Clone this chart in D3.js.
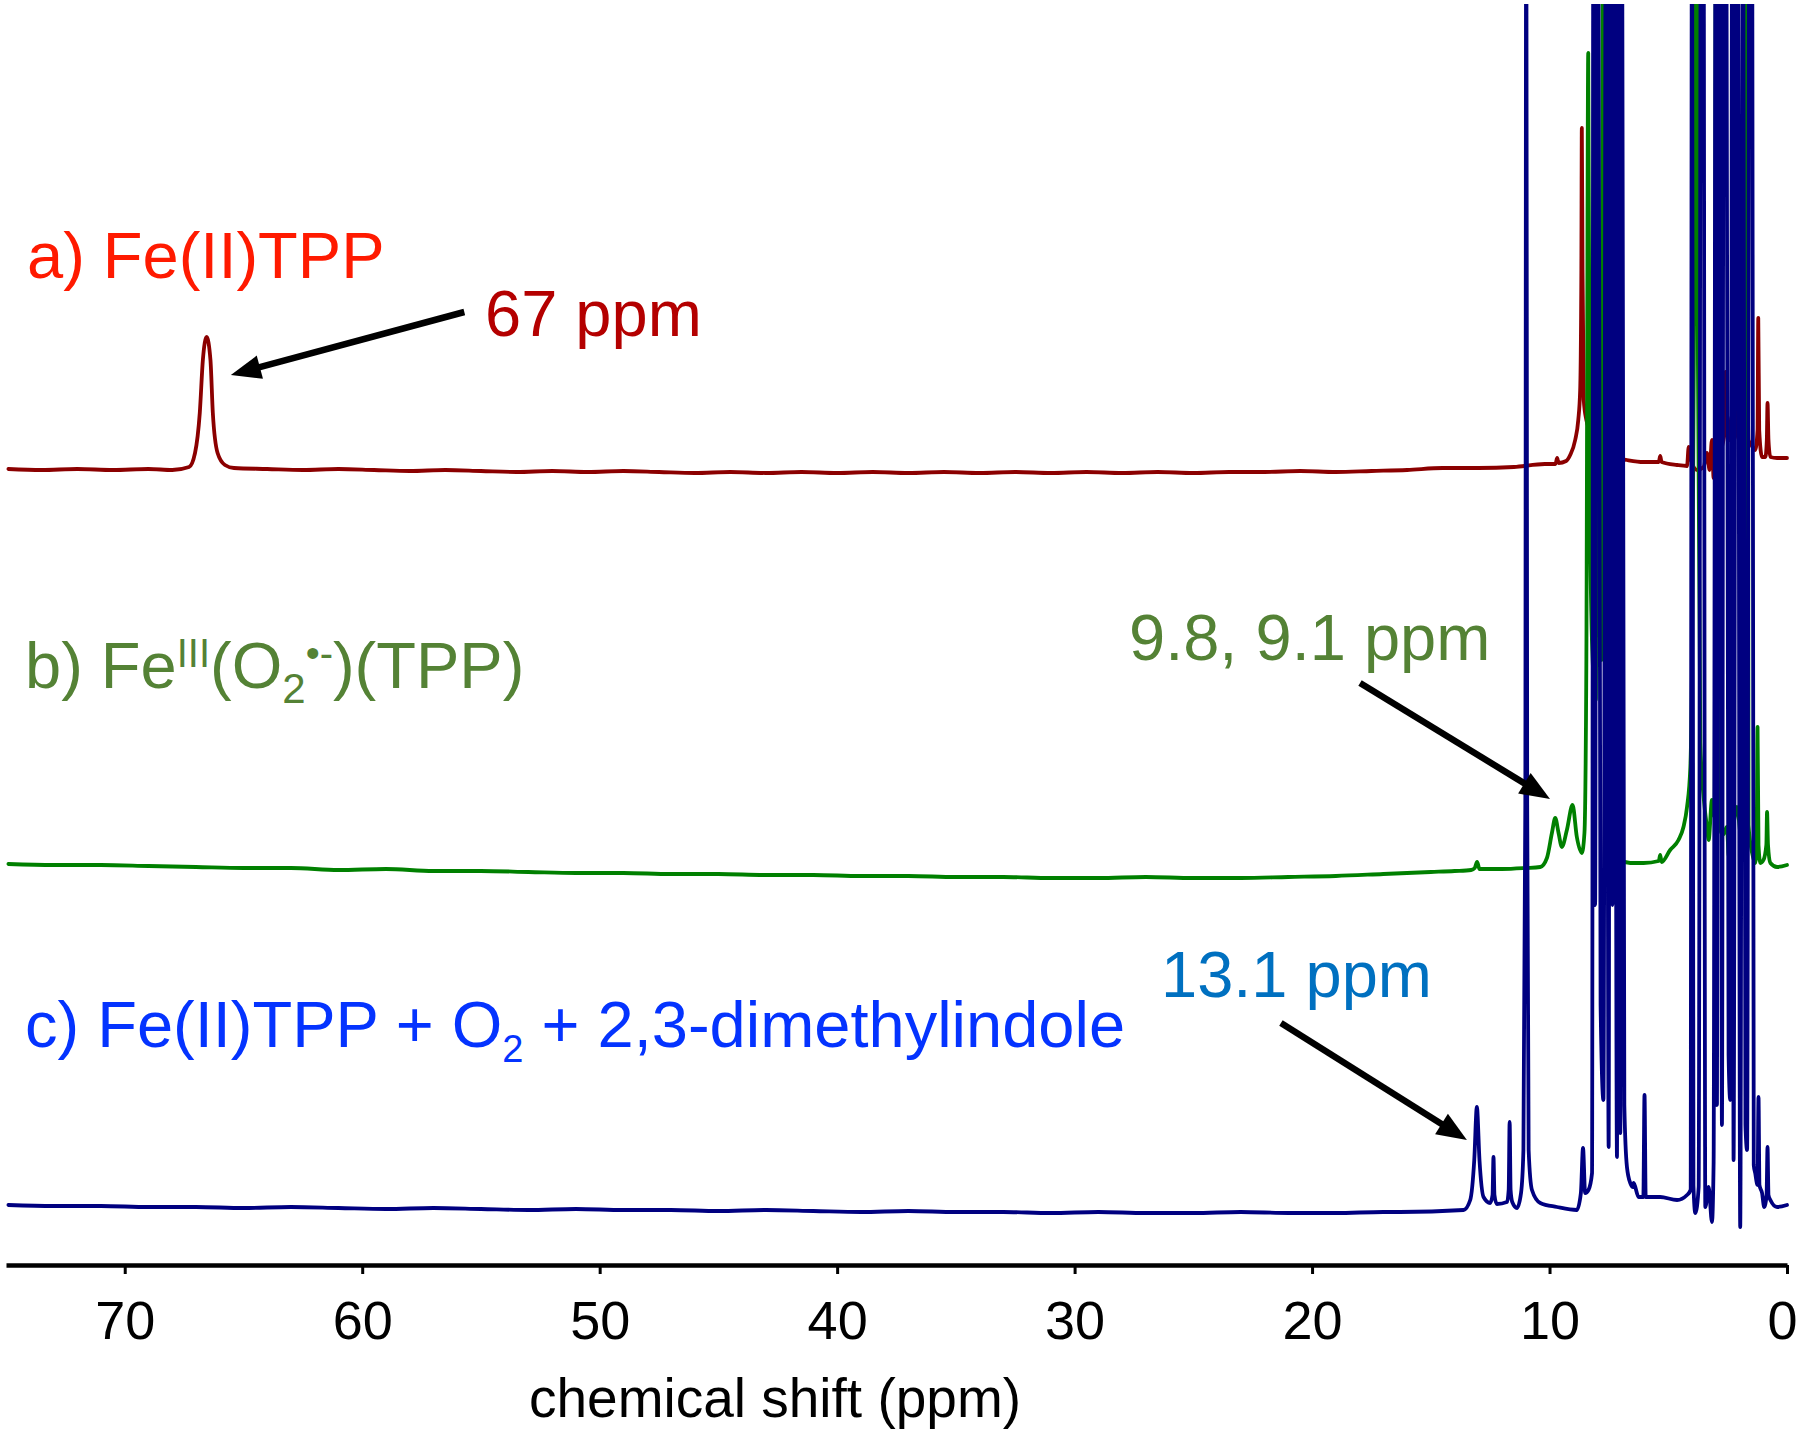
<!DOCTYPE html>
<html>
<head>
<meta charset="utf-8">
<script src="https://cdn.jsdelivr.net/npm/d3@7"></script>
<style>
  html, body { margin: 0; padding: 0; background: #ffffff; }
  svg { display: block; }
  text { font-family: "Liberation Sans", Arial, Helvetica, sans-serif; white-space: pre; }
</style>
</head>
<body>
<script>
// ---------------- DATA ----------------
const tickValues = [70, 60, 50, 40, 30, 20, 10, 0];
const tickLabels = ["70", "60", "50", "40", "30", "20", "10", "0"];
const axisTitle = "chemical shift (ppm)";

const seriesNames = ["a) Fe(II)TPP", "b) FeIII(O2•-)(TPP)", "c) Fe(II)TPP + O2 + 2,3-dimethylindole"];
// vertical stacking offsets of each spectrum (intensity, a.u.)
const seriesOffsets = [795, 400, 60];

// [chemical shift (ppm), intensity (a.u.)]
const spectrumA = [
  [74.9, 1], [73.5, 0], [72.0, 1], [70.5, 0], [69.0, 1], [68.0, 0],
  [67.29, 3], [67.04, 17], [66.84, 57], [66.71, 110], [66.55, 133], [66.39, 110],
  [66.29, 57], [66.09, 17], [65.78, 5], [65.40, 2],
  [64.0, 1], [62.5, 0], [61.0, 1], [59.5, 0], [58.0, -1], [56.5, 0], [55.0, -1],
  [53.5, -2], [52.0, -1], [50.5, -2], [49.0, -1], [47.5, -2], [46.0, -3], [44.5, -2],
  [43.0, -3], [41.5, -2], [40.0, -3], [38.5, -2], [37.0, -3], [35.5, -2], [34.0, -3],
  [32.5, -2], [31.0, -3], [29.5, -2], [28.0, -3], [26.5, -2], [25.0, -3], [23.5, -2],
  [22.0, -2], [20.5, -1], [19.0, -2], [17.5, -1], [16.0, 0], [14.5, 2], [13.0, 2],
  [11.5, 3], [10.2, 6], [9.75, 6], [9.68, 12], [9.62, 7], [9.3, 9], [9.13, 15],
  [8.92, 30], [8.79, 50], [8.71, 80], [8.66, 200], [8.64, 342], [8.61, 200], [8.56, 70],
  [8.45, 50], [8.3, 40], [8.1, 33], [7.9, 32], [7.75, 45], [7.69, 150], [7.65, 1300],
  [7.61, 150], [7.55, 35], [7.51, 22], [7.30, 15], [7.16, 12], [6.74, 10], [6.04, 8],
  [5.40, 8], [5.34, 14], [5.28, 8], [4.63, 5], [4.21, 4], [4.14, 23], [4.04, 10],
  [3.79, 0], [3.51, 3], [3.37, 17], [3.26, 0], [3.16, 30], [3.09, -8], [2.95, 7],
  [2.72, 25], [2.62, 40], [2.59, 98], [2.55, 40], [2.50, 53], [2.42, 30], [2.25, 30],
  [2.12, 40], [2.08, 210], [2.04, 40], [1.90, 25], [1.74, 30], [1.68, 97], [1.62, 30],
  [1.55, 27], [1.34, 20], [1.24, 40], [1.21, 152], [1.17, 40], [1.05, 13], [0.91, 13],
  [0.85, 30], [0.82, 67], [0.78, 30], [0.70, 13], [0.42, 12], [0.0, 12]
];

const spectrumB = [
  [74.9, 1], [73, 0], [71, 0], [69, -1], [67, -2], [65, -3], [63, -3], [61, -5],
  [59, -4], [57, -6], [55, -6], [53, -7], [51, -8], [49, -8], [47, -9], [45, -9],
  [43, -10], [41, -10], [39, -11], [37, -11], [35, -12], [33, -12], [31, -13], [29, -13],
  [27, -12], [25, -13], [23, -13], [21, -12], [19, -11], [17, -9], [15, -7], [14, -6],
  [13.3, -5], [13.15, -3], [13.05, 3], [12.95, -4], [12.0, -4], [11.0, -3], [10.39, -2],
  [10.11, 7], [9.90, 32], [9.76, 47], [9.62, 32], [9.48, 18], [9.27, 35], [9.03, 60],
  [8.85, 28], [8.64, 12], [8.53, 32], [8.45, 200], [8.37, 812], [8.30, 360], [8.20, 215],
  [8.05, 165], [7.99, 1300], [7.93, 265], [7.80, 205], [7.74, 1300], [7.70, 400],
  [7.66, 1300], [7.58, 165], [7.51, 25], [7.30, 12], [7.02, 5], [6.60, 2], [6.04, 2],
  [5.40, 4], [5.34, 10], [5.28, 3], [4.92, 15], [4.57, 25], [4.36, 38], [4.21, 58],
  [4.07, 98], [4.00, 200], [3.90, 600], [3.83, 1300], [3.75, 500], [3.65, 122],
  [3.50, 65], [3.37, 38], [3.30, 25], [3.16, 65], [3.05, 48], [2.98, 1300], [2.90, 45],
  [2.70, 30], [2.53, 38], [2.45, 8], [2.11, 58], [1.90, 22], [1.72, 40], [1.68, 1300],
  [1.62, 40], [1.47, 12], [1.34, 2], [1.28, 20], [1.24, 138], [1.20, 20], [1.12, 2],
  [0.99, 5], [0.87, 20], [0.84, 53], [0.80, 20], [0.70, 2], [0.42, -2], [0.0, 0]
];

const spectrumC = [
  [74.9, 0], [73, -1], [71, -1], [69, -2], [67, -2], [65, -3], [63, -2], [61, -3],
  [59, -4], [57, -3], [55, -4], [53, -5], [51, -4], [49, -5], [47, -5], [45, -6],
  [43, -5], [41, -6], [39, -7], [37, -6], [35, -7], [33, -7], [31, -8], [29, -7],
  [27, -8], [25, -8], [23, -7], [21, -8], [19, -8], [17, -7], [16.3, -7], [13.62, -5],
  [13.34, 5], [13.17, 45], [13.06, 98], [12.95, 45], [12.78, 8], [12.50, 2], [12.40, 10],
  [12.36, 48], [12.32, 10], [12.22, 1], [11.79, 3], [11.72, 15], [11.68, 83], [11.64, 15],
  [11.57, 3], [11.37, -3], [11.20, 12], [11.10, 55], [11.02, 400], [10.98, 1400],
  [10.94, 400], [10.88, 55], [10.74, 15], [10.39, 2], [9.69, -2], [8.85, -5], [8.68, 12],
  [8.59, 57], [8.50, 12], [8.36, 15], [8.21, 32], [8.15, 1400], [8.08, 300], [8.01, 1400],
  [7.95, 1400], [7.85, 200], [7.73, 105], [7.62, 1400], [7.51, 58], [7.45, 1400],
  [7.35, 300], [7.28, 1400], [7.16, 48], [7.10, 1400], [7.02, 72], [6.95, 1400],
  [6.85, 100], [6.74, 38], [6.60, 22], [6.48, 18], [6.46, 22], [6.25, 8], [6.05, 8],
  [6.00, 110], [5.95, 8], [5.34, 8], [4.63, 5], [4.21, 10], [4.06, 15], [4.00, 1400],
  [3.94, 20], [3.86, -8], [3.72, 18], [3.62, 1400], [3.52, 1400], [3.44, -2], [3.30, 18],
  [3.16, -17], [3.09, 43], [3.00, 1400], [2.95, 100], [2.90, 1400], [2.82, 1400],
  [2.74, 80], [2.66, 1400], [2.56, 1400], [2.46, 150], [2.39, 105], [2.30, 1400],
  [2.25, 45], [2.14, 1400], [2.08, 1400], [1.97, -22], [1.85, 1400], [1.75, 80],
  [1.68, 55], [1.58, 1400], [1.47, 1400], [1.40, 40], [1.34, 32], [1.24, 20], [1.20, 108],
  [1.16, 20], [1.05, 12], [0.96, -2], [0.86, 10], [0.82, 58], [0.78, 10], [0.70, 5],
  [0.42, -2], [0.0, 0]
];

const peakLabels = ["67 ppm", "9.8, 9.1 ppm", "13.1 ppm"];

// ---------------- LAYOUT ----------------
const W = 1800, H = 1431;
const axisY = 1265;
const svg = d3.select("body").append("svg").attr("width", W).attr("height", H)
  .attr("viewBox", `0 0 ${W} ${H}`);
svg.append("rect").attr("width", W).attr("height", H).attr("fill", "#ffffff");

const x = d3.scaleLinear().domain([75, 0]).range([6, 1787]);
const y = d3.scaleLinear().domain([0, 1265]).range([axisY, 0]);

const traceColors = ["#8b0000", "#008000", "#000080"];
const spectra = [spectrumA, spectrumB, spectrumC];

svg.append("defs").append("clipPath").attr("id", "plotclip")
  .append("rect").attr("x", 0).attr("y", 4).attr("width", W).attr("height", axisY - 4);

const gTraces = svg.append("g").attr("clip-path", "url(#plotclip)");
spectra.forEach((data, i) => {
  const line = d3.line()
    .curve(d3.curveMonotoneX)
    .x(d => x(d[0]))
    .y(d => y(d[1] + seriesOffsets[i]));
  gTraces.append("path")
    .datum(data)
    .attr("d", line)
    .attr("fill", "none")
    .attr("stroke", traceColors[i])
    .attr("stroke-width", 3.8)
    .attr("stroke-linejoin", "round")
    .attr("stroke-linecap", "round");
});

// ---------------- AXIS ----------------
const axis = d3.axisBottom(x)
  .tickValues(tickValues)
  .tickFormat((d, i) => tickLabels[i])
  .tickSizeInner(9)
  .tickSizeOuter(0);
const gAxis = svg.append("g").attr("transform", `translate(0,${axisY})`).call(axis);
gAxis.select(".domain").attr("stroke", "#000").attr("stroke-width", 4.5);
gAxis.selectAll(".tick line").attr("stroke", "#000").attr("stroke-width", 3);
gAxis.selectAll(".tick text")
  .attr("y", 74).attr("dy", null)
  .attr("x", d => d === 0 ? -5 : 0)
  .attr("fill", "#000")
  .style("font-family", "'Liberation Sans', Arial, sans-serif")
  .style("font-size", "54px");

svg.append("text")
  .attr("x", 775).attr("y", 1417)
  .attr("text-anchor", "middle")
  .attr("font-size", 55)
  .attr("fill", "#000")
  .text(axisTitle);

// ---------------- SERIES LABELS ----------------
svg.append("text").attr("x", 27).attr("y", 278)
  .attr("font-size", 65).attr("fill", "#ff1a00")
  .text(seriesNames[0]);

const tb = svg.append("text").attr("x", 25).attr("y", 688)
  .attr("font-size", 65).attr("fill", "#548235");
tb.append("tspan").text("b) Fe");
tb.append("tspan").attr("font-size", 40).attr("dy", -21).text("III");
tb.append("tspan").attr("font-size", 65).attr("dy", 21).text("(O");
tb.append("tspan").attr("font-size", 42).attr("dy", 15).text("2");
tb.append("tspan").attr("font-size", 40).attr("dy", -36).text("•-");
tb.append("tspan").attr("font-size", 65).attr("dy", 21).text(")(TPP)");

const tc = svg.append("text").attr("x", 25).attr("y", 1047)
  .attr("font-size", 65).attr("fill", "#0433ff");
tc.append("tspan").text("c) Fe(II)TPP + O");
tc.append("tspan").attr("font-size", 38).attr("dy", 15).text("2");
tc.append("tspan").attr("font-size", 65).attr("dy", -15).text(" + 2,3-dimethylindole");

// ---------------- PEAK ANNOTATIONS ----------------
const annos = [
  { text: peakLabels[0], color: "#b40000", tx: 485, ty: 336, s: 0, from: [55.7, 158], to: [65.53, 95] },
  { text: peakLabels[1], color: "#548235", tx: 1129, ty: 660, s: 1, from: [17.98, 182], to: [9.98, 66] },
  { text: peakLabels[2], color: "#0070c0", tx: 1161, ty: 997, s: 2, from: [21.31, 182], to: [13.48, 65] }
];
annos.forEach(a => {
  svg.append("text").attr("x", a.tx).attr("y", a.ty)
    .attr("font-size", 65).attr("fill", a.color).text(a.text);
  const x1 = x(a.from[0]), y1 = y(a.from[1] + seriesOffsets[a.s]);
  const x2 = x(a.to[0]), y2 = y(a.to[1] + seriesOffsets[a.s]);
  const dx = x2 - x1, dy = y2 - y1, L = Math.hypot(dx, dy);
  const ux = dx / L, uy = dy / L;
  const headLen = 30, headW = 12;
  const bx = x2 - ux * headLen, by = y2 - uy * headLen;
  svg.append("line")
    .attr("x1", x1).attr("y1", y1).attr("x2", bx + ux * 2).attr("y2", by + uy * 2)
    .attr("stroke", "#000").attr("stroke-width", 6.5);
  svg.append("path")
    .attr("d", `M${x2},${y2} L${bx - uy * headW},${by + ux * headW} L${bx + uy * headW},${by - ux * headW} Z`)
    .attr("fill", "#000");
});
</script>
</body>
</html>
